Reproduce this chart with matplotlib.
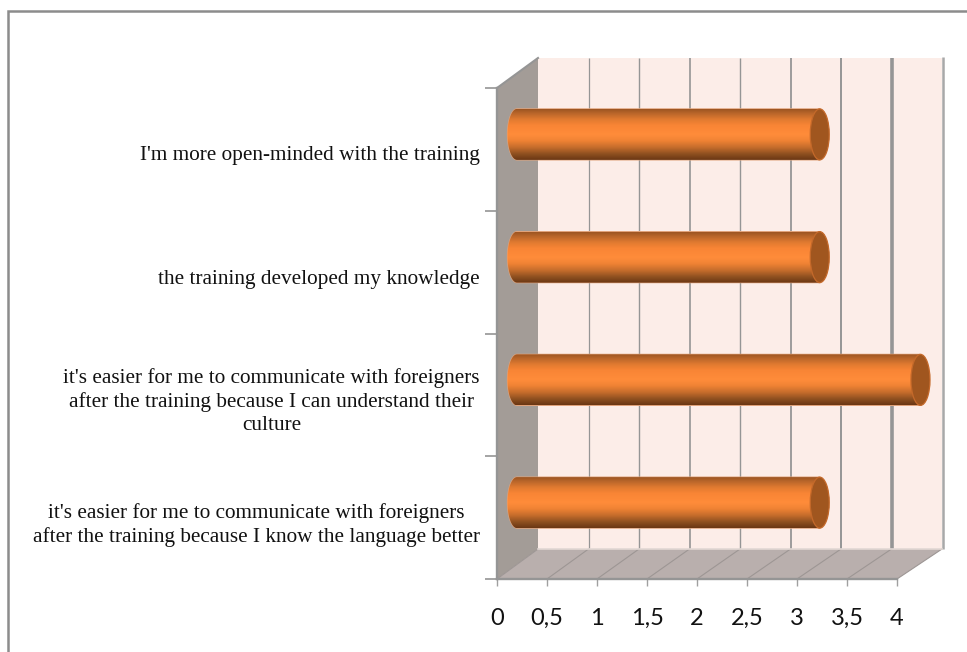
import numpy as np
import matplotlib
matplotlib.use("Agg")
import matplotlib.pyplot as plt
from matplotlib.patches import Polygon, Rectangle, Ellipse
from matplotlib.colors import LinearSegmentedColormap
from matplotlib.transforms import ScaledTranslation

categories = [
    "it's easier for me to communicate with foreigners\nafter the training because I know the language better",
    "it's easier for me to communicate with foreigners\nafter the training because I can understand their\nculture",
    "the training developed my knowledge",
    "I'm more open-minded with the training",
]
values = [3, 4, 3, 3]
x_ticks = [0, 0.5, 1, 1.5, 2, 2.5, 3, 3.5, 4]
x_tick_labels = ["0", "0,5", "1", "1,5", "2", "2,5", "3", "3,5", "4"]
grid_widths = [1.0, 0.9, 1.0, 1.2, 1.0, 1.3, 1.4, 2.6, 1.8]
label_shift_px = [-3.0, -2.0, -4.5, -4.0]

W, H = 967, 652
fig = plt.figure(figsize=(W / 100, H / 100), dpi=100, facecolor="white")
L, R, T, B = 497.0, 897.0, 88.0, 579.0
ax = fig.add_axes([L / W, 1 - B / H, (R - L) / W, (B - T) / H])
ax.set_xlim(0, 4)
ax.set_ylim(-0.5, 3.5)
ax.patch.set_visible(False)

pxx = 4 / (R - L)
pxy = 4 / (B - T)
DX, DY = 41 * pxx, 30 * pxy
BACK_SCALE = 1.01


def back(v, y):
    return (v * BACK_SCALE + DX, y + DY)


GRID = "#959595"
WALL = "#fcede8"
SIDE = "#a39c97"
FLOOR = "#b9afad"
kw = dict(clip_on=False)

# outer chart frame
fig.add_artist(Rectangle((8 / W, -0.02), 1.1, 1 - 11 / H + 0.02, transform=fig.transFigure,
                         fill=False, ec="#8c8c8c", lw=1.8))

# back wall, side wall, floor
x0, y0 = back(0, -0.5)
x4, y1 = back(4, 3.5)
ax.add_patch(Polygon([(x0, y0), (x4, y0), (x4, y1), (x0, y1)], fc=WALL, ec="none", zorder=1, **kw))
ax.add_patch(Polygon([(0, -0.5), (x0, y0), (x0, y1), (0, 3.5)], fc=SIDE, ec="none", zorder=1, **kw))
ax.add_patch(Polygon([(0, -0.5), (4, -0.5), (x4, y0), (x0, y0)], fc=FLOOR, ec="none", zorder=1, **kw))

# gridlines on wall and floor
for t, lw in zip(x_ticks, grid_widths):
    bx, by0 = back(t, -0.5)
    _, by1 = back(t, 3.5)
    if 0 < t < 4:
        ax.plot([bx, bx], [by0, by1], color=GRID, lw=lw, zorder=2, solid_capstyle="butt", **kw)
    ax.plot([t, bx], [-0.5, by0], color="#9d9694", lw=0.8, zorder=2, **kw)
bx4 = back(4, 0)[0]
ax.plot([bx4 + 1.0 * pxx] * 2, [y0, y1 + 1 * pxy], color="#a8a8a8", lw=grid_widths[-1], zorder=2,
        solid_capstyle="butt", **kw)
ax.plot([0, x0], [3.5, y1], color=GRID, lw=1.5, zorder=3, **kw)
ax.plot([x0, x4], [y0, y0], color="#e2d8d4", lw=1.2, zorder=2, **kw)

# cylinder bars
stops = [(0.0, "#9c5522"), (0.08, "#b8652a"), (0.2, "#e07a30"), (0.32, "#f98535"),
         (0.5, "#ff8c3a"), (0.62, "#f08334"), (0.75, "#c66d2c"), (0.88, "#8f5020"),
         (1.0, "#6a3714")]
cmap = LinearSegmentedColormap.from_list("cyl", stops)
grad = np.linspace(0, 1, 256).reshape(-1, 1)
BAR_H = 51 * pxy
CAP_W = 19 * pxx
MID_X, MID_Y = 20.5 * pxx, 15 * pxy
theta = np.linspace(np.pi / 2, 3 * np.pi / 2, 40)
for i, v in enumerate(values):
    xs = MID_X - 0.5 * pxx
    xe = v * 100.75 * pxx + MID_X
    yc = i + MID_Y
    # body outline: half ellipse on the left, straight to the end cap
    arc = np.column_stack([xs + CAP_W / 2 * np.cos(theta), yc + BAR_H / 2 * np.sin(theta)])
    outline = np.vstack([arc, [[xe, yc - BAR_H / 2], [xe, yc + BAR_H / 2]]])
    halo = Polygon(outline, closed=True, fc="none", ec="#e0a27a", lw=0.9, zorder=4, **kw)
    ax.add_patch(halo)
    im = ax.imshow(grad, cmap=cmap, aspect="auto", zorder=5, interpolation="bilinear",
                   extent=[xs - CAP_W, xe, yc - BAR_H / 2, yc + BAR_H / 2], origin="upper")
    clip = Polygon(outline, closed=True, transform=ax.transData, fc="none", ec="none")
    im.set_clip_path(clip)
    im.set_clip_box(fig.bbox)
    # end cap
    ax.add_patch(Ellipse((xe, yc), CAP_W, BAR_H, fc="#a0561f", ec="#c4692a", lw=0.9, zorder=6, **kw))
ax.set_xlim(0, 4)
ax.set_ylim(-0.5, 3.5)

# axes, ticks, labels
for s in ("top", "right"):
    ax.spines[s].set_visible(False)
for s in ("left", "bottom"):
    ax.spines[s].set_color(GRID)
    ax.spines[s].set_linewidth(1.7)
    ax.spines[s].set_zorder(3)
ax.set_xticks(x_ticks)
ax.set_xticklabels(x_tick_labels, fontfamily="Lato", fontsize=17, color="#111111")
ax.tick_params(axis="x", length=5, width=1.0, color="#a0a0a0", pad=16)
ax.set_yticks(np.arange(-0.5, 3.6, 1.0))
ax.set_yticklabels([])
ax.tick_params(axis="y", length=9, width=1.2, color=GRID, direction="out")
ax.set_yticks(np.arange(len(categories)), labels=categories, minor=True,
              fontfamily="Liberation Serif", fontsize=15.35, color="#111111",
              multialignment="center", linespacing=1.28)
ax.tick_params(axis="y", which="minor", length=0, pad=12.5)
for lab, shift in zip(ax.get_yticklabels(minor=True), label_shift_px):
    off = ScaledTranslation(0, shift / 100, fig.dpi_scale_trans)
    lab.set_transform(lab.get_transform() + off)

fig.savefig("out.png", dpi=100)
